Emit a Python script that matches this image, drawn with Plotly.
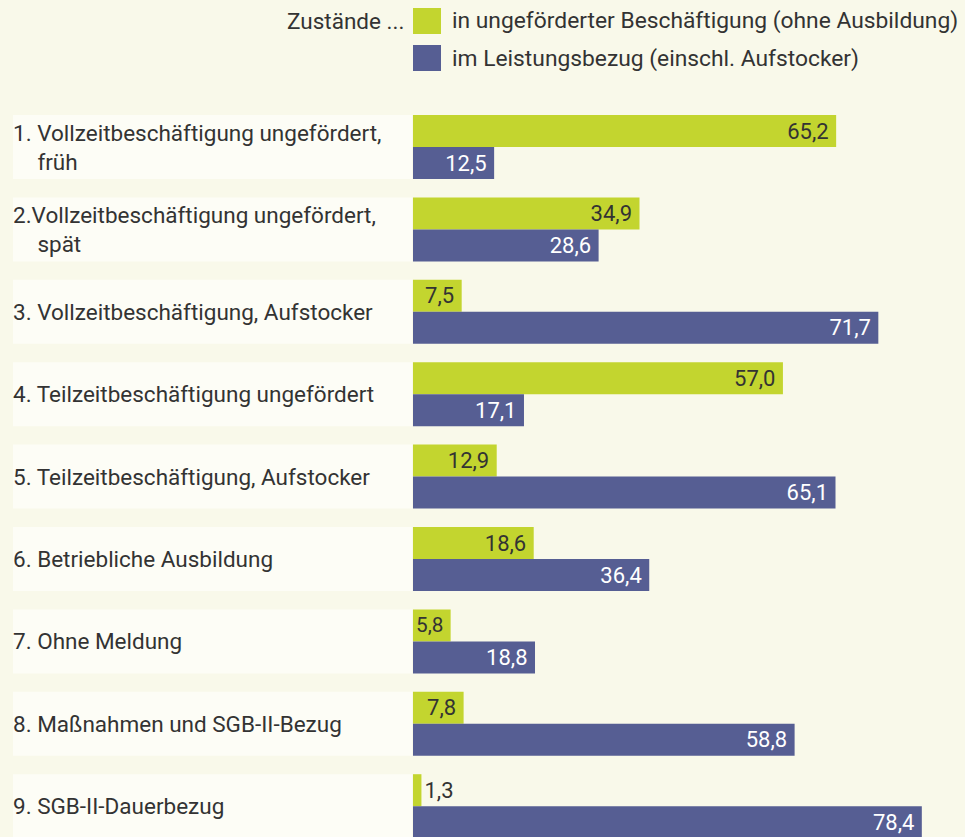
import plotly.graph_objects as go

categories = [
    "1. Vollzeitbeschäftigung ungefördert,<br>\u2007\u2008\u00a0früh",
    "2.Vollzeitbeschäftigung ungefördert,<br>\u2007\u2008\u00a0spät",
    "3. Vollzeitbeschäftigung, Aufstocker",
    "4. Teilzeitbeschäftigung ungefördert",
    "5. Teilzeitbeschäftigung, Aufstocker",
    "6. Betriebliche Ausbildung",
    "7. Ohne Meldung",
    "8. Maßnahmen und SGB-II-Bezug",
    "9. SGB-II-Dauerbezug",
]
ungefoerdert = [65.2, 34.9, 7.5, 57.0, 12.9, 18.6, 5.8, 7.8, 1.3]
leistungsbezug = [12.5, 28.6, 71.7, 17.1, 65.1, 36.4, 18.8, 58.8, 78.4]
series_names = [
    "in ungeförderter Beschäftigung (ohne Ausbildung)",
    "im Leistungsbezug (einschl. Aufstocker)",
]
legend_title = "Zustände ..."

GREEN = "#c3d52f"
BLUE = "#565e93"
BG = "#f9f9ea"
BOX = "#fdfdf6"
TXT = "#333333"
FONT = "Roboto, sans-serif"

W, H = 965, 837
L = 413
T = 100
row_px = 82.4
first_center = 147
bar_px = 32
unit = bar_px / row_px

pos = list(range(len(categories)))
y_top = -(first_center - T) / row_px
y_bot = (H - first_center) / row_px
px_per_val = 6.49
x_max = (W - L) / px_per_val

VAL_SIZE = 22


def text_pos(vals):
    return ["outside" if v < 3 else "inside" for v in vals]


fig = go.Figure()
fig.add_trace(go.Bar(
    y=pos, x=ungefoerdert, orientation="h", name=series_names[0],
    marker=dict(color=GREEN, line=dict(width=0)),
    width=unit, offset=-unit,
    texttemplate="%{x:.1f}\u2009", textposition=text_pos(ungefoerdert),
    insidetextanchor="end",
    insidetextfont=dict(color=TXT, size=VAL_SIZE, family=FONT),
    outsidetextfont=dict(color=TXT, size=VAL_SIZE, family=FONT),
    cliponaxis=False, showlegend=False,
))
fig.add_trace(go.Bar(
    y=pos, x=leistungsbezug, orientation="h", name=series_names[1],
    marker=dict(color=BLUE, line=dict(width=0)),
    width=unit, offset=0,
    texttemplate="%{x:.1f}\u2009", textposition=text_pos(leistungsbezug),
    insidetextanchor="end",
    insidetextfont=dict(color="white", size=VAL_SIZE, family=FONT),
    outsidetextfont=dict(color=TXT, size=VAL_SIZE, family=FONT),
    cliponaxis=False, showlegend=False,
))

shapes = []
annotations = []
plot_w = W - L
def px2paper_x(px):
    return (px - L) / plot_w
plot_h = H - T
def py2paper_y(py):
    return 1 - (py - T) / plot_h

for i, cat in enumerate(categories):
    shapes.append(dict(type="rect", xref="paper", yref="y",
                       x0=px2paper_x(13), x1=px2paper_x(412),
                       y0=i - unit, y1=i + unit,
                       fillcolor=BOX, line=dict(width=0), layer="below"))
    annotations.append(dict(xref="paper", yref="y", x=px2paper_x(11), y=i,
                            text=cat, showarrow=False, xanchor="left",
                            yanchor="middle", align="left",
                            font=dict(size=22.5, color=TXT, family=FONT)))

# legend
leg_y = [21, 58]
leg_col = [GREEN, BLUE]
for k in range(2):
    shapes.append(dict(type="rect", xref="paper", yref="paper",
                       x0=px2paper_x(413), x1=px2paper_x(441),
                       y0=py2paper_y(leg_y[k] + 13), y1=py2paper_y(leg_y[k] - 13),
                       fillcolor=leg_col[k], line=dict(width=0)))
    annotations.append(dict(xref="paper", yref="paper", x=px2paper_x(450),
                            y=py2paper_y(leg_y[k]), text=series_names[k],
                            showarrow=False, xanchor="left", yanchor="middle",
                            font=dict(size=22.8, color=TXT, family=FONT)))
annotations.append(dict(xref="paper", yref="paper", x=px2paper_x(406),
                        y=py2paper_y(leg_y[0]), text=legend_title,
                        showarrow=False, xanchor="right", yanchor="middle",
                        font=dict(size=22.5, color=TXT, family=FONT)))

fig.update_layout(
    width=W, height=H,
    margin=dict(l=L, r=0, t=T, b=0),
    paper_bgcolor=BG, plot_bgcolor=BG,
    separators=",.",
    barmode="overlay",
    shapes=shapes, annotations=annotations,
    xaxis=dict(range=[0, x_max], visible=False, fixedrange=True),
    yaxis=dict(range=[y_bot, y_top], visible=False, fixedrange=True),
    font=dict(family=FONT, color=TXT),
)
fig.write_html(
    "out.html",
    config={"displayModeBar": False},
    post_script="document.body.style.margin='0';document.body.style.overflow='hidden';document.body.style.background='#f9f9ea';",
)
